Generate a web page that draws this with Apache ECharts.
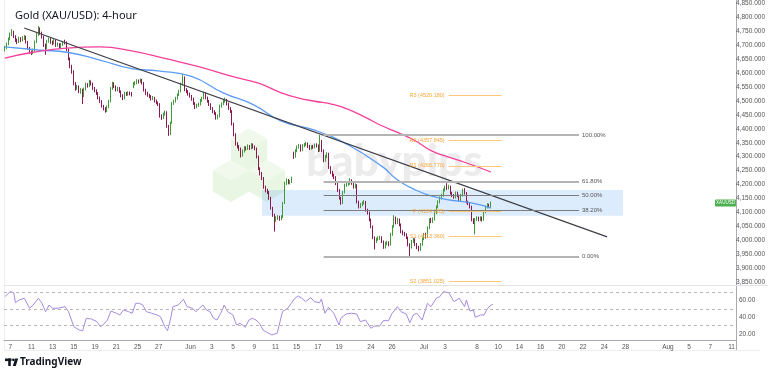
<!DOCTYPE html>
<html>
<head>
<meta charset="utf-8">
<script src="https://cdn.jsdelivr.net/npm/echarts@6/dist/echarts.min.js"></script>
<style>
  html, body { margin: 0; padding: 0; background: #fff; }
  #main { width: 768px; height: 375px; }
</style>
</head>
<body>
<div id="main"></div>
<script>
// 4-hour candles: [open, close, low, high]
const candles = [
  [4684,4691,4678,4698],[4691,4705,4686,4710],[4705,4722,4700,4728],[4722,4740,4718,4746],[4740,4748,4733,4758],[4748,4732,4726,4752],[4732,4719,4712,4736],[4719,4712,4704,4724],[4712,4725,4708,4731],[4725,4718,4711,4729],
  [4718,4726,4714,4733],[4726,4730,4719,4737],[4730,4712,4706,4734],[4712,4690,4684,4716],[4690,4677,4670,4694],[4677,4672,4665,4681],[4672,4682,4668,4688],[4682,4712,4678,4717],[4712,4738,4708,4744],[4738,4760,4733,4769],
  [4760,4744,4738,4764],[4744,4730,4724,4749],[4730,4702,4694,4734],[4702,4690,4666,4706],[4690,4715,4686,4720],[4715,4722,4709,4728],[4722,4712,4705,4726],[4712,4708,4700,4717],[4708,4717,4703,4722],[4717,4700,4694,4720],
  [4700,4704,4695,4710],[4704,4695,4688,4708],[4695,4702,4690,4708],[4702,4712,4698,4716],[4712,4710,4703,4720],[4710,4684,4678,4714],[4684,4652,4646,4688],[4652,4625,4618,4656],[4625,4606,4598,4630],[4606,4563,4556,4610],
  [4563,4545,4537,4568],[4545,4552,4540,4558],[4552,4535,4528,4556],[4535,4540,4526,4546],[4540,4520,4489,4544],[4520,4542,4514,4548],[4542,4560,4538,4566],[4560,4555,4548,4564],[4555,4570,4550,4576],[4570,4562,4556,4574],
  [4562,4545,4540,4566],[4545,4538,4531,4550],[4538,4528,4522,4542],[4528,4512,4506,4532],[4512,4499,4493,4516],[4499,4482,4476,4503],[4482,4474,4466,4486],[4474,4464,4458,4478],[4464,4478,4460,4484],[4478,4499,4474,4504],
  [4499,4545,4495,4550],[4545,4563,4540,4569],[4563,4552,4546,4567],[4552,4540,4534,4556],[4540,4546,4535,4551],[4546,4535,4529,4550],[4535,4520,4513,4538],[4520,4510,4503,4524],[4510,4528,4506,4533],[4528,4524,4518,4532],
  [4524,4530,4519,4535],[4530,4528,4520,4534],[4528,4524,4516,4532],[4550,4562,4546,4568],[4562,4565,4556,4571],[4565,4572,4560,4578],[4572,4570,4563,4577],[4570,4576,4565,4581],[4576,4565,4559,4579],[4565,4540,4534,4568],
  [4540,4528,4521,4544],[4528,4522,4515,4533],[4522,4517,4510,4526],[4517,4508,4502,4521],[4508,4512,4503,4518],[4512,4500,4494,4515],[4500,4494,4488,4505],[4494,4489,4482,4498],[4489,4448,4440,4492],[4448,4439,4432,4452],
  [4439,4452,4435,4458],[4452,4460,4447,4466],[4460,4410,4404,4463],[4410,4382,4375,4414],[4382,4421,4378,4426],[4421,4492,4418,4496],[4492,4498,4486,4504],[4498,4510,4494,4515],[4510,4522,4505,4527],[4522,4535,4518,4540],
  [4535,4560,4531,4566],[4560,4585,4556,4595],[4585,4540,4535,4588],[4540,4535,4528,4546],[4535,4525,4519,4539],[4525,4518,4512,4530],[4518,4508,4501,4522],[4508,4492,4486,4512],[4492,4480,4471,4496],[4480,4485,4474,4490],
  [4485,4489,4479,4494],[4489,4502,4484,4507],[4502,4510,4497,4515],[4510,4528,4506,4533],[4528,4512,4506,4531],[4512,4500,4494,4516],[4500,4488,4482,4504],[4488,4474,4468,4492],[4474,4462,4456,4478],[4462,4457,4450,4467],
  [4457,4439,4433,4460],[4439,4445,4434,4451],[4445,4482,4441,4487],[4482,4490,4476,4495],[4490,4500,4485,4505],[4500,4505,4494,4512],[4505,4490,4484,4508],[4490,4474,4468,4494],[4474,4464,4457,4478],[4464,4418,4412,4467],
  [4418,4380,4373,4422],[4380,4347,4340,4384],[4347,4338,4330,4352],[4338,4329,4321,4342],[4329,4305,4297,4333],[4305,4320,4300,4326],[4320,4333,4315,4338],[4333,4329,4322,4337],[4329,4338,4324,4344],[4338,4330,4324,4342],
  [4330,4344,4326,4349],[4344,4335,4329,4347],[4335,4330,4323,4340],[4330,4300,4294,4333],[4300,4258,4252,4304],[4258,4240,4233,4262],[4240,4223,4216,4245],[4223,4191,4185,4227],[4191,4180,4172,4196],[4180,4173,4166,4185],
  [4173,4152,4145,4177],[4152,4116,4110,4156],[4116,4091,4084,4120],[4091,4074,4031,4095],[4074,4080,4066,4086],[4080,4084,4073,4090],[4084,4078,4070,4088],[4078,4084,4072,4090],[4084,4134,4080,4138],[4134,4205,4130,4210],
  [4205,4216,4198,4222],[4216,4208,4201,4220],[4208,4210,4200,4216],[4210,4223,4205,4228],[4312,4300,4292,4318],[4300,4322,4296,4327],[4322,4335,4316,4340],[4335,4340,4329,4346],[4340,4325,4318,4344],[4325,4340,4320,4345],
  [4340,4344,4334,4349],[4344,4347,4338,4353],[4347,4338,4331,4351],[4338,4330,4324,4342],[4330,4336,4325,4341],[4336,4335,4328,4342],[4335,4342,4330,4347],[4342,4340,4333,4348],[4340,4322,4316,4344],[4322,4357,4318,4378],
  [4357,4322,4316,4360],[4322,4287,4280,4326],[4287,4300,4282,4306],[4300,4311,4295,4316],[4311,4262,4256,4314],[4262,4244,4238,4266],[4244,4235,4228,4249],[4235,4226,4219,4239],[4226,4205,4198,4230],[4205,4180,4173,4209],
  [4180,4152,4146,4184],[4152,4134,4127,4156],[4134,4173,4130,4177],[4173,4198,4168,4203],[4198,4202,4192,4208],[4202,4205,4196,4211],[4205,4216,4199,4223],[4216,4205,4199,4219],[4205,4191,4185,4209],[4191,4198,4186,4204],
  [4198,4138,4132,4201],[4138,4120,4114,4142],[4120,4128,4115,4134],[4128,4134,4122,4139],[4134,4138,4128,4144],[4138,4109,4103,4141],[4109,4099,4092,4113],[4099,4074,4068,4103],[4074,4049,4043,4078],[4049,4010,4004,4053],
  [4010,3996,3967,4014],[3996,4003,3990,4009],[4003,4008,3998,4014],[4008,4010,4001,4016],[4010,3996,3990,4014],[3996,3975,3969,3999],[3975,3988,3970,3994],[3988,3992,3982,3998],[3992,3985,3978,3996],[3985,4021,3981,4026],
  [4021,4049,4016,4054],[4049,4081,4045,4090],[4081,4063,4057,4085],[4063,4074,4058,4080],[4074,4056,4050,4078],[4056,4031,4025,4060],[4031,4025,4018,4036],[4025,4021,4014,4030],[4021,4010,4004,4025],[4010,3985,3978,4013],
  [3985,3975,3942,3989],[3975,3996,3970,4001],[3996,4003,3990,4009],[4003,3985,3979,4007],[3985,3975,3968,3990],[3975,3967,3960,3980],[3967,3985,3962,3990],[3985,4005,3980,4010],[4005,4021,4000,4026],[4021,4012,4006,4027],
  [4012,4045,4008,4050],[4045,4074,4040,4079],[4074,4068,4061,4080],[4068,4076,4062,4082],[4076,4099,4071,4104],[4099,4120,4094,4125],[4120,4138,4115,4143],[4138,4152,4132,4157],[4152,4162,4146,4167],[4162,4180,4156,4186],
  [4180,4191,4175,4196],[4191,4187,4180,4205],[4187,4193,4182,4199],[4193,4170,4164,4196],[4170,4162,4155,4174],[4162,4155,4149,4166],[4155,4170,4150,4175],[4170,4160,4154,4174],[4160,4145,4139,4164],[4145,4162,4140,4167],
  [4162,4180,4157,4185],[4180,4170,4164,4187],[4170,4138,4132,4173],[4138,4132,4126,4142],[4132,4120,4114,4136],[4120,4074,4068,4124],[4074,4068,4058,4079],[4068,4075,4021,4080],[4075,4081,4069,4086],[4081,4074,4068,4085],
  [4074,4081,4069,4086],[4081,4074,4067,4085],[4074,4102,4070,4107],[4102,4120,4097,4125],[4120,4127,4114,4133],[4127,4122,4115,4131],[4122,4134,4117,4139]
];

// moving averages: [bar index, price]
const maFast = [[0,4694],[19,4683],[36,4674],[54,4647],[72,4616],[87,4608],[106,4588],[124,4529],[141,4487],[157,4428],[176,4395],[195,4342],[214,4266],[223,4216],[233,4181],[242,4159],[252,4145],[261,4138],[270,4127],[276,4115]];
const maSlow = [[0,4654],[16,4675],[35,4690],[54,4694],[72,4680],[92,4651],[110,4623],[129,4588],[144,4564],[157,4529],[167,4510],[176,4499],[186,4488],[195,4470],[205,4440],[214,4411],[223,4387],[233,4357],[242,4322],[252,4298],[261,4280],[276,4245]];

// RSI: [bar index, value]
const rsi = [[0,64.8],[3,70.8],[5,69.6],[6,57.6],[8,60.8],[11,62.9],[14,50.9],[16,54.8],[19,62.9],[21,56.9],[23,46.8],[25,54.8],[27,50.9],[30,50.9],[34,52.8],[36,46.8],[39,28.8],[42,24.8],[44,24],[46,38.9],[49,38],[52,34.8],[54,28.8],[56,32],[58,36.8],[60,47.6],[63,44.9],[65,42.8],[67,48.8],[70,46.8],[72,44.9],[74,56.9],[76,56.9],[78,54.8],[80,46.8],[83,44.9],[86,42.8],[88,40.8],[90,30.8],[91,26.9],[92,24],[94,40.8],[95,52.8],[98,54.8],[101,61.7],[103,52.8],[106,50.9],[108,46.8],[110,50.9],[112,54.8],[114,48.8],[116,46.8],[118,38.9],[120,36.8],[122,44.9],[123,48.8],[124,54.8],[126,46.8],[129,42.8],[131,30.8],[133,32.9],[136,28.1],[138,36.8],[140,38.9],[142,36.8],[144,32.9],[146,24.8],[149,20.9],[151,18.9],[154,20.9],[155,21.6],[157,46.8],[158,48.8],[160,50.9],[162,56.9],[164,62.9],[166,65.6],[168,62.9],[170,58.8],[173,63.6],[175,58.8],[178,57.6],[179,62],[181,44.9],[183,52],[186,44.9],[189,30.8],[190,38.9],[193,44],[196,44.9],[199,44],[201,34.8],[204,36.8],[207,26.9],[209,29.6],[212,29.6],[214,36],[215,37.7],[217,36],[219,44.9],[222,52.8],[224,46.8],[227,44],[229,33.6],[231,42.8],[233,44.9],[236,36.8],[237,36],[239,56.9],[241,52.8],[244,62.9],[246,64.8],[248,70.8],[251,69.6],[254,58.8],[257,62.9],[260,52.8],[261,60.8],[263,47.6],[265,48.8],[266,40],[269,42.8],[271,42.8],[273,50.9],[275,54.8],[276,55.6]];

// time axis: label text and trading-day number (day 0 = May 7)
const tickLabels = ['7','11','13','15','19','21','25','27','Jun','3','5','9','11','15','17','19','24','26','Jul','3','8','10','14','16','20','22','24','28','Aug','5','7','11'];
const tickDays = [0,2,4,6,8,10,12,14,17,19,21,23,25,27,29,31,34,36,39,41,44,46,48,50,52,54,56,58,62,64,66,68];
const slotCount = 414, barsPerDay = 6, firstDaySlot = 3;

// drawings
const fibNames = ['100.00%','61.80%','50.00%','38.20%','0.00%'];
const fibValues = [4378, 4211.4, 4160, 4108.6, 3942];
const fibFrom = 181, fibTo = 326;
const pivotNames = ['R3','R2','R1','P','S1','S2'];
const pivotValues = [4520.180, 4357.845, 4266.770, 4104.285, 4013.360, 3851.025];
const pivotFrom = 252, pivotTo = 282;
const trendFrom = [11, 4762], trendTo = [342, 4012];
const zoneFrom = 146, zoneTo = 351, zoneTop = 4180, zoneBottom = 4088;

const cats = new Array(slotCount).fill('');
tickDays.forEach((d, k) => { cats[firstDaySlot + barsPerDay * d] = tickLabels[k]; });

const chart = echarts.init(document.getElementById('main'));
const axisFont = 'Liberation Sans';

const fibLines = fibValues.map((v, k) => {
  const heavy = k === 0 || k === 1 || k === 4;
  return [
    { coord: [fibFrom, v], lineStyle: { color: heavy ? '#b4b4b4' : '#7d7d7d', width: heavy ? 2 : 1, type: 'solid' },
      label: { show: true, position: 'end', formatter: fibNames[k], fontSize: 6, color: '#555', fontFamily: axisFont, distance: 3 } },
    { coord: [fibTo, v] }
  ];
});
const pivotLines = pivotValues.map((v, k) => [
  { coord: [pivotFrom, v], lineStyle: { color: '#ffc77a', width: 1, type: 'solid' },
    label: { show: true, position: 'start', formatter: pivotNames[k] + ' (' + v.toFixed(3) + ')', fontSize: 5.5, color: '#f7a53a', fontFamily: axisFont, distance: 4 } },
  { coord: [pivotTo, v] }
]);
const trendLine = [
  { coord: trendFrom, lineStyle: { color: '#3d4049', width: 1.3, type: 'solid' }, label: { show: false } },
  { coord: trendTo }
];

chart.setOption({
  animation: false,
  title: {
    text: 'Gold (XAU/USD): 4-hour', left: 10, top: 5,
    textStyle: { fontSize: 11, fontWeight: 'normal', color: '#131722', fontFamily: 'Noto Sans' }
  },
  grid: [
    { left: 4, top: 2, width: 732, height: 280 },
    { left: 4, top: 284, width: 732, height: 66.67 }
  ],
  xAxis: [
    { type: 'category', gridIndex: 0, data: cats, boundaryGap: true, show: false },
    { type: 'category', gridIndex: 1, data: cats, boundaryGap: true, offset: -10.67,
      axisLine: { show: true, lineStyle: { color: '#a9acb4' } },
      axisTick: { show: false },
      axisLabel: { interval: 0, fontSize: 6.5, color: '#555', margin: 4, fontFamily: axisFont } }
  ],
  yAxis: [
    { type: 'value', gridIndex: 0, position: 'right', min: 3850, max: 4850, interval: 50,
      splitLine: { show: false }, axisLine: { show: false }, axisTick: { show: false },
      axisLabel: { margin: 3, fontSize: 6.5, color: '#555', fontFamily: axisFont,
        formatter: v => v.toLocaleString('en-US', { minimumFractionDigits: 3, maximumFractionDigits: 3 }) } },
    { type: 'value', gridIndex: 1, position: 'right', min: 0, max: 80, interval: 20,
      splitLine: { show: false }, axisLine: { show: false }, axisTick: { show: false },
      axisLabel: { margin: 3, fontSize: 6.5, color: '#555', fontFamily: axisFont, showMinLabel: false, showMaxLabel: false,
        formatter: v => v.toFixed(2) } }
  ],
  series: [
    {
      type: 'candlestick', xAxisIndex: 0, yAxisIndex: 0, data: candles, z: 3,
      barMaxWidth: 1.3,
      itemStyle: { color: '#3f9b3a', color0: '#8c1a4f', borderColor: '#3f9b3a', borderColor0: '#8c1a4f', borderWidth: 1 },
      markArea: {
        silent: true,
        itemStyle: { color: 'rgba(66,150,240,0.18)' },
        data: [[{ coord: [zoneFrom, zoneTop] }, { coord: [zoneTo, zoneBottom] }]]
      },
      markLine: {
        silent: true, symbol: ['none', 'none'], animation: false,
        data: [trendLine].concat(fibLines, pivotLines)
      }
    },
    {
      type: 'line', xAxisIndex: 0, yAxisIndex: 0, data: maFast, smooth: true, showSymbol: false, z: 4,
      lineStyle: { color: '#5b9cf6', width: 1.3 }
    },
    {
      type: 'line', xAxisIndex: 0, yAxisIndex: 0, data: maSlow, smooth: true, showSymbol: false, z: 4,
      lineStyle: { color: '#f5409a', width: 1.3 }
    },
    {
      type: 'line', xAxisIndex: 1, yAxisIndex: 1, data: rsi, showSymbol: false,
      lineStyle: { color: '#a48ae0', width: 1 },
      markLine: {
        silent: true, symbol: ['none', 'none'], label: { show: false },
        lineStyle: { color: '#b8b8b8', type: [3, 3], width: 1 },
        data: [{ yAxis: 70 }, { yAxis: 50 }, { yAxis: 30 }]
      }
    }
  ]
});

// decorations: watermark, frame, last-price tag, logo
function hexPoints(cx, cy, r) {
  const pts = [];
  for (let k = 0; k < 6; k++) {
    const a = Math.PI / 180 * (60 * k - 90);
    pts.push([cx + r * Math.cos(a), cy + r * Math.sin(a)]);
  }
  return pts;
}
const hexes = [[231, 181], [249, 149.5], [267, 181]].map(([cx, cy]) => ({
  type: 'polygon', z: 0, silent: true,
  shape: { points: hexPoints(cx, cy, 21) },
  style: { fill: '#e9f6e4' }
}));
const hexTops = [[231, 181], [249, 149.5], [267, 181]].map(([cx, cy]) => ({
  type: 'polygon', z: 0, silent: true,
  shape: { points: [[cx, cy - 21], [cx + 18.2, cy - 10.5], [cx, cy], [cx - 18.2, cy - 10.5]] },
  style: { fill: '#f0f9ec' }
}));

const lastClose = candles[candles.length - 1][1];
const tagY = chart.convertToPixel({ yAxisIndex: 0 }, lastClose);

chart.setOption({
  graphic: { elements: hexes.concat(hexTops, [
    { type: 'text', z: 0, silent: true, left: 306, top: 140,
      style: { text: 'babypips', fontSize: 44, fontWeight: 900, fontFamily: 'Lato', fill: '#ececec' } },
    { type: 'line', silent: true, shape: { x1: 736.5, y1: 0, x2: 736.5, y2: 350 }, style: { stroke: '#a9acb4', lineWidth: 1 } },
    { type: 'line', silent: true, shape: { x1: 4.5, y1: 0, x2: 4.5, y2: 350 }, style: { stroke: '#eeeeee', lineWidth: 1 } },
    { type: 'line', silent: true, shape: { x1: 4, y1: 285.5, x2: 768, y2: 285.5 }, style: { stroke: '#e3e3e3', lineWidth: 1 } },
    { type: 'line', silent: true, shape: { x1: 4, y1: 350.5, x2: 760, y2: 350.5 }, style: { stroke: '#eeeeee', lineWidth: 1 } },
    { type: 'rect', silent: true, z: 10, shape: { x: 715, y: tagY - 3.5, width: 21, height: 7, r: 1 }, style: { fill: '#4caf50' } },
    { type: 'text', silent: true, z: 11, x: 725.5, y: tagY,
      style: { text: 'XAUUSD', fontSize: 4.5, fill: '#fff', align: 'center', verticalAlign: 'middle', fontFamily: axisFont } },
    { type: 'rect', silent: true, shape: { x: 5, y: 358.5, width: 6.5, height: 2.6 }, style: { fill: '#131722' } },
    { type: 'rect', silent: true, shape: { x: 8.2, y: 358.5, width: 2.6, height: 7.5 }, style: { fill: '#131722' } },
    { type: 'circle', silent: true, shape: { cx: 13.4, cy: 359.8, r: 1.35 }, style: { fill: '#131722' } },
    { type: 'polygon', silent: true, shape: { points: [[15.2, 358.5], [18.2, 358.5], [15.8, 366], [12.8, 366]] }, style: { fill: '#131722' } },
    { type: 'text', silent: true, x: 20, y: 362.3,
      style: { text: 'TradingView', fontSize: 10, fontWeight: 'bold', fill: '#131722', verticalAlign: 'middle', fontFamily: 'Noto Sans' } }
  ]) }
});
</script>
</body>
</html>
